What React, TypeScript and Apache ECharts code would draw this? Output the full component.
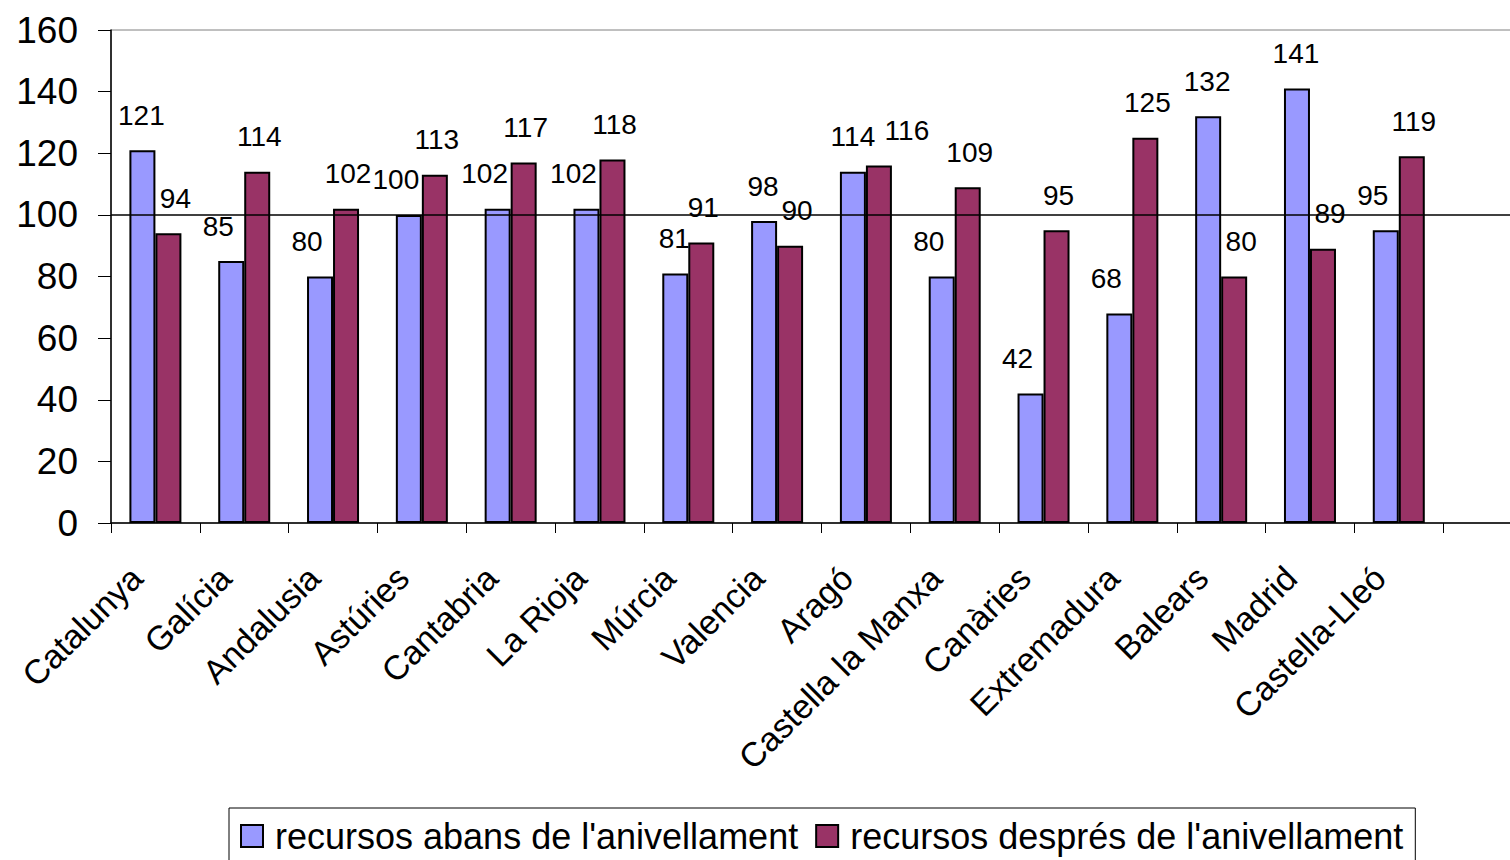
import React, { useEffect, useRef } from "react";
import * as echarts from "echarts";

const categories = [
  "Catalunya", "Galícia", "Andalusia", "Astúries", "Cantabria", "La Rioja", "Múrcia",
  "Valencia", "Aragó", "Castella la Manxa", "Canàries", "Extremadura", "Balears", "Madrid", "Castella-Lleó",
];
const before = [121, 85, 80, 100, 102, 102, 81, 98, 114, 80, 42, 68, 132, 141, 95];
const after = [94, 114, 102, 113, 117, 118, 91, 90, 116, 109, 95, 125, 80, 89, 119];
const seriesNames = ["recursos abans de l'anivellament", "recursos després de l'anivellament"];
const yTicks = { min: 0, max: 160, interval: 20 };
const referenceValue = 100;

const FONT = "'Liberation Sans', Arial, sans-serif";

function blueDx(b: number, r: number) {
  if (Math.abs(b - r) <= 3) return 0;
  if (r - b > 12) return -13;
  return -1;
}
function redDx(b: number, r: number) {
  if (Math.abs(b - r) <= 3) return 28;
  if (b - r > 5) return 7;
  return 2;
}

export default function App() {
  const ref = useRef<HTMLDivElement>(null);
  useEffect(() => {
    if (!ref.current) return;
    const chart = echarts.init(ref.current, undefined, { renderer: "svg" });
    const labelBase = {
      show: true,
      position: "top",
      distance: 21,
      color: "#000",
      fontSize: 28,
      fontFamily: FONT,
    };
    chart.setOption({
      animation: false,
      backgroundColor: "#fff",
      grid: {
        show: true,
        left: 111,
        top: 30,
        width: 1421,
        height: 493,
        borderColor: "#808080",
        borderWidth: 1,
        backgroundColor: "transparent",
      },
      legend: {
        left: 229,
        top: 808,
        padding: [10, 12, 19, 11],
        itemWidth: 22,
        itemHeight: 22,
        itemGap: 17,
        icon: "rect",
        borderColor: "#000",
        borderWidth: 1,
        data: seriesNames,
        textStyle: { fontSize: 36, color: "#000", fontFamily: FONT, padding: [0, 0, 0, 7] },
      },
      xAxis: {
        type: "category",
        data: [...categories, ""],
        boundaryGap: true,
        axisLine: { show: true, lineStyle: { color: "#000", width: 1.5 } },
        axisTick: { show: true, length: 10, alignWithLabel: false, lineStyle: { color: "#000" } },
        axisLabel: {
          rotate: 45,
          interval: 0,
          margin: 30,
          padding: [0, 27, 0, 0],
          fontSize: 34,
          color: "#000",
          fontFamily: FONT,
        },
        splitLine: { show: false },
      },
      yAxis: {
        type: "value",
        min: yTicks.min,
        max: yTicks.max,
        interval: yTicks.interval,
        axisLine: { show: true, lineStyle: { color: "#000", width: 1.5 } },
        axisTick: { show: true, length: 13, lineStyle: { color: "#000" } },
        axisLabel: { margin: 33, fontSize: 37, color: "#000", fontFamily: FONT },
        splitLine: { show: false },
      },
      series: [
        {
          name: seriesNames[0],
          type: "bar",
          barWidth: 26,
          barGap: "0%",
          itemStyle: { color: "#9999FF", borderColor: "#000", borderWidth: 2 },
          data: before.map((v, i) => ({
            value: v,
            label: { ...labelBase, offset: [blueDx(v, after[i]), 0] },
          })),
          markLine: {
            silent: true,
            symbol: "none",
            label: { show: false },
            lineStyle: { color: "#000", width: 1.5, type: "solid" },
            data: [{ yAxis: referenceValue }],
          },
        },
        {
          name: seriesNames[1],
          type: "bar",
          barWidth: 26,
          barGap: "0%",
          itemStyle: { color: "#993366", borderColor: "#000", borderWidth: 2 },
          data: after.map((v, i) => ({
            value: v,
            label: { ...labelBase, offset: [redDx(before[i], v), 0] },
          })),
        },
      ],
    });
    return () => chart.dispose();
  }, []);
  return (
    <div
      style={{
        position: "fixed",
        left: 0,
        top: 0,
        width: 1510,
        height: 860,
        overflow: "hidden",
        background: "#fff",
      }}
    >
      <div ref={ref} style={{ width: 1540, height: 860 }} />
    </div>
  );
}
